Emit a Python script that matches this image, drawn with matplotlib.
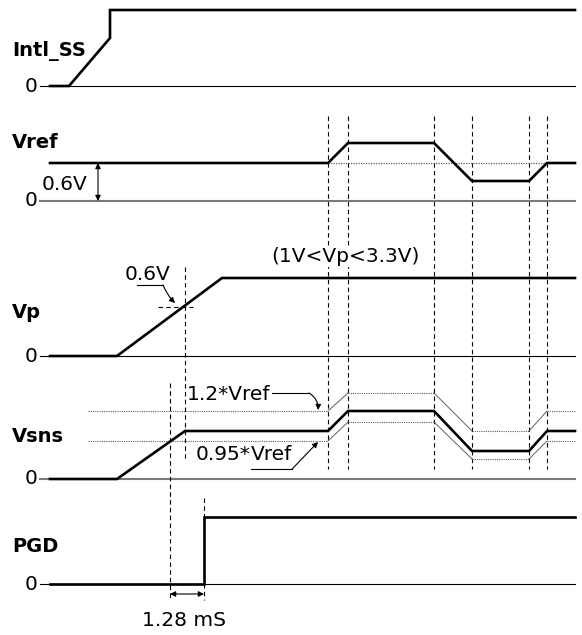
import matplotlib
matplotlib.use("Agg")
import matplotlib.pyplot as plt

plt.rcParams['font.family'] = ['DejaVu Sans']

# ---------------- data (diagram units: x = time, level = height above channel baseline) -------------
channels = ["Intl_SS", "Vref", "Vp", "Vsns", "PGD"]
baselines = [86, 201, 356, 479, 584]
label_y = [51, 143, 313, 437, 547]

ss_t = [50, 69, 110, 110, 575]
ss_lv = [0, 0, 48, 76, 76]

vref_t = [50, 328, 348, 434, 472, 529, 547, 575]
vref_lv = [38, 38, 58, 58, 20, 20, 38, 38]

vp_t = [50, 117, 222, 575]
vp_lv = [0, 0, 78, 78]

vsns_t = [50, 117, 185, 328, 348, 434, 472, 529, 547, 575]
vsns_lv = [0, 0, 48, 48, 68, 68, 28, 28, 48, 48]

hi_t = [88, 328, 348, 434, 472, 529, 547, 575]
hi_lv = [68, 68, 86, 86, 48, 48, 68, 68]

lo_t = [88, 328, 348, 434, 472, 529, 547, 575]
lo_lv = [38, 38, 57, 57, 20, 20, 38, 38]

pgd_t = [50, 204, 204, 575]
pgd_lv = [0, 0, 67, 67]

event_t = [328, 348, 434, 472, 529, 547]
vp_cross_t = 185
pgd_delay_t = [170, 204]

# ---------------- figure ----------------
W, H = 582, 635
fig = plt.figure(figsize=(W / 100, H / 100), dpi=100)
ax = fig.add_axes([0, 0, 1, 1])
ax.set_xlim(0, W)
ax.set_ylim(H, 0)
ax.axis('off')

THICK = 1.9
FS = 14.5
FSL = 14


def yy(base, lv):
    return [base - v for v in lv]


def band(t, lv, base):
    ys = yy(base, lv)
    for i in range(len(t) - 1):
        if ys[i] == ys[i + 1]:
            ax.plot(t[i:i + 2], ys[i:i + 2], color='#606060', lw=0.8,
                    dashes=(1, 1), zorder=2)
        else:
            ax.plot(t[i:i + 2], ys[i:i + 2], color='#606060', lw=0.7, zorder=2)


# baselines and "0" marks
base_colors = ['black', '#7a7a7a', 'black', '#7a7a7a', 'black']
base_lw = [0.8, 1.5, 0.8, 1.5, 0.8]
for name, b, ly, c, lw in zip(channels, baselines, label_y, base_colors, base_lw):
    ax.plot([40, 575], [b, b], color=c, lw=lw, zorder=1)
    ax.text(38, b, "0", ha='right', va='center', fontsize=FS)
    ax.text(12, ly, name, ha='left', va='center', fontsize=FSL, fontweight='bold')

# vertical dashed event lines
for t in event_t:
    ax.plot([t, t], [116, 469], color='black', lw=0.8, dashes=(4, 3), zorder=1)
ax.plot([vp_cross_t, vp_cross_t], [267, 461], color='black', lw=0.8, dashes=(4, 3), zorder=1)
ax.plot([pgd_delay_t[0]] * 2, [383, 600], color='black', lw=0.8, dashes=(4, 3), zorder=1)
ax.plot([pgd_delay_t[1]] * 2, [498, 600], color='black', lw=0.8, dashes=(4, 3), zorder=1)

# Vref dotted reference
ax.plot([event_t[0], event_t[-1]], [baselines[1] - vref_lv[0]] * 2, color='#606060',
        lw=0.9, dashes=(1, 1), zorder=2)

# Vsns window bands
band(hi_t, hi_lv, baselines[3])
band(lo_t, lo_lv, baselines[3])

# waveforms
for t, lv, b in [(ss_t, ss_lv, baselines[0]), (vref_t, vref_lv, baselines[1]),
                 (vp_t, vp_lv, baselines[2]), (vsns_t, vsns_lv, baselines[3]),
                 (pgd_t, pgd_lv, baselines[4])]:
    ax.plot(t, yy(b, lv), color='black', lw=THICK, solid_joinstyle='miter', zorder=3)

ARW = dict(lw=0.8, color='black', mutation_scale=8, shrinkA=0, shrinkB=0)

# Vref 0.6V arrow
ax.annotate('', xy=(98, baselines[1] - vref_lv[0]), xytext=(98, baselines[1]),
            arrowprops=dict(arrowstyle='<|-|>', **ARW))
ax.text(42, 185, "0.6V", ha='left', va='center', fontsize=FS)

# Vp 0.6V marker
ax.plot([158, 193], [307, 307], color='black', lw=0.8, dashes=(4, 3), zorder=2)
ax.text(125, 274, "0.6V", ha='left', va='center', fontsize=FS)
ax.plot([137, 163], [285, 285], color='black', lw=0.8)
ax.annotate('', xy=(175, 303), xytext=(163, 285),
            arrowprops=dict(arrowstyle='-|>', connectionstyle='arc3,rad=0.1', **ARW))
ax.text(345, 257, "(1V<Vp<3.3V)", ha='center', va='center', fontsize=FS,
        bbox=dict(facecolor='white', edgecolor='none', pad=0.5), zorder=4)

fig.canvas.draw()
r = fig.canvas.get_renderer()
inv = ax.transData.inverted()

# Vsns annotations
th = ax.text(187, 394, "1.2*Vref", ha='left', va='center', fontsize=FS,
             bbox=dict(facecolor='white', edgecolor='none', pad=0.3), zorder=4)
fig.canvas.draw()
hx = inv.transform((th.get_window_extent(r).x1, 0))[0]
ax.plot([hx + 1, 309], [393, 393], color='black', lw=0.8)
ax.annotate('', xy=(318, 410), xytext=(309, 393),
            arrowprops=dict(arrowstyle='-|>', connectionstyle='arc3,rad=-0.3', **ARW))

t1 = ax.text(196, 455, "0.95*", ha='left', va='center', fontsize=FS,
             bbox=dict(facecolor='white', edgecolor='none', pad=0.3), zorder=4)
fig.canvas.draw()
bb = t1.get_window_extent(r)
x_end = inv.transform((bb.x1, bb.y0))[0]
t2 = ax.text(x_end, 455, "Vref", ha='left', va='center', fontsize=FS,
             bbox=dict(facecolor='white', edgecolor='none', pad=0.3), zorder=4)
fig.canvas.draw()
bb2 = t2.get_window_extent(r)
ux0 = inv.transform((bb2.x0, bb2.y0))[0]
ux1 = inv.transform((bb2.x1, bb2.y0))[0]
ax.plot([ux0, ux1], [469, 469], color='black', lw=0.8, zorder=5)
ax.annotate('', xy=(318, 442), xytext=(ux1, 469),
            arrowprops=dict(arrowstyle='-|>', **ARW))

# PGD delay
ax.annotate('', xy=(pgd_delay_t[0], 594), xytext=(pgd_delay_t[1], 594),
            arrowprops=dict(arrowstyle='<|-|>', **ARW))
ax.text(184, 621, "1.28 mS", ha='center', va='center', fontsize=FS)

fig.savefig("out.png", dpi=100)
